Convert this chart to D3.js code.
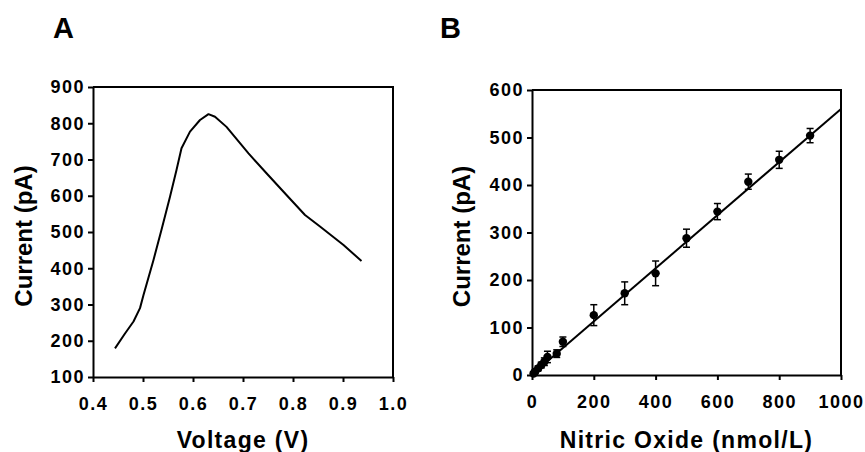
<!DOCTYPE html>
<html>
<head>
<meta charset="utf-8">
<script src="https://cdn.jsdelivr.net/npm/d3@7"></script>
<style>
  body { margin: 0; background: #fff; }
  svg { display: block; font-family: "Liberation Sans", Arial, sans-serif; font-weight: bold; }
  .axis path, .axis line { stroke: #000; stroke-width: 2; }
  .axis text { font-size: 18px; font-weight: bold; fill: #000; letter-spacing: 1.5px; }
</style>
</head>
<body>
<svg id="chart" width="865" height="452"></svg>
<script>
// Panel A - voltammogram
const voltage = [0.444, 0.464, 0.481, 0.494, 0.501, 0.521, 0.537, 0.554, 0.567, 0.577, 0.594,
                 0.614, 0.631, 0.644, 0.667, 0.711, 0.747, 0.787, 0.824, 0.854, 0.901, 0.937];
const currentA = [179, 220, 253, 290, 326, 423, 506, 597, 671, 731, 777,
                  809, 825, 818, 790, 717, 662, 602, 547, 515, 464, 420];
const voltTicks = [0.4, 0.5, 0.6, 0.7, 0.8, 0.9, 1.0];
const currentATicks = [100, 200, 300, 400, 500, 600, 700, 800, 900];

// Panel B - calibration
const nitricOxide = [5, 10, 20, 30, 40, 50, 80, 100, 200, 300, 400, 500, 600, 700, 800, 900];
const currentB = [3, 7, 14, 21, 28, 38, 45, 70, 126, 172, 214, 288, 344, 407, 453, 504];
const errorB = [3, 4, 5, 6, 8, 12, 8, 10, 22, 24, 26, 19, 17, 16, 18, 15];
const fitX = [0, 1000];
const fitY = [1, 560];
const noTicks = [0, 200, 400, 600, 800, 1000];
const currentBTicks = [0, 100, 200, 300, 400, 500, 600];

const svg = d3.select("#chart");

// draws the framed axes for one panel, returns the scales
function drawFrame(cfg) {
  const x = d3.scaleLinear().domain(cfg.xDomain).range([cfg.left, cfg.right]);
  const y = d3.scaleLinear().domain(cfg.yDomain).range([cfg.bottom, cfg.top]);

  svg.append("g")
    .attr("class", "axis")
    .attr("transform", `translate(0,${cfg.bottom})`)
    .call(d3.axisBottom(x).tickValues(cfg.xTicks).tickFormat(cfg.xFormat)
      .tickSize(5).tickSizeOuter(0).tickPadding(15));

  svg.append("g")
    .attr("class", "axis")
    .attr("transform", `translate(${cfg.left},0)`)
    .call(d3.axisLeft(y).tickValues(cfg.yTicks).tickFormat(d3.format("d"))
      .tickSize(5).tickSizeOuter(0).tickPadding(3));

  // top and right border
  svg.append("path")
    .attr("d", `M${cfg.left},${cfg.top}H${cfg.right}V${cfg.bottom}`)
    .attr("fill", "none")
    .attr("stroke", "#000")
    .attr("stroke-width", 2);

  svg.append("text")
    .attr("x", (cfg.left + cfg.right) / 2)
    .attr("y", 448)
    .attr("text-anchor", "middle")
    .attr("font-size", "23px")
    .attr("letter-spacing", "1.3px")
    .text(cfg.xLabel);

  svg.append("text")
    .attr("transform", `translate(${cfg.yLabelX},${(cfg.top + cfg.bottom) / 2 + 4}) rotate(-90)`)
    .attr("text-anchor", "middle")
    .attr("font-size", "24px")
    .text("Current (pA)");

  svg.append("text")
    .attr("x", cfg.letterX)
    .attr("y", 38)
    .attr("font-size", "29px")
    .text(cfg.letter);

  return {x, y};
}

// Panel A
const a = drawFrame({
  left: 93, right: 393, top: 87, bottom: 377,
  xDomain: [0.4, 1.0], yDomain: [100, 900],
  xTicks: voltTicks, yTicks: currentATicks, xFormat: d3.format(".1f"),
  xLabel: "Voltage (V)", yLabelX: 32, letter: "A", letterX: 53
});

svg.append("path")
  .datum(voltage.map((v, i) => [v, currentA[i]]))
  .attr("fill", "none")
  .attr("stroke", "#000")
  .attr("stroke-width", 2)
  .attr("stroke-linejoin", "round")
  .attr("d", d3.line().x(d => a.x(d[0])).y(d => a.y(d[1])));

// Panel B
const b = drawFrame({
  left: 532, right: 841, top: 90, bottom: 375,
  xDomain: [0, 1000], yDomain: [0, 600],
  xTicks: noTicks, yTicks: currentBTicks, xFormat: d3.format("d"),
  xLabel: "Nitric Oxide (nmol/L)", yLabelX: 470, letter: "B", letterX: 440
});

svg.append("path")
  .datum(fitX.map((v, i) => [v, fitY[i]]))
  .attr("fill", "none")
  .attr("stroke", "#000")
  .attr("stroke-width", 2)
  .attr("d", d3.line().x(d => b.x(d[0])).y(d => b.y(d[1])));

const pts = nitricOxide.map((v, i) => ({x: v, y: currentB[i], e: errorB[i]}));

const errG = svg.append("g").attr("stroke", "#000").attr("stroke-width", 1.5);
errG.selectAll("line.bar")
  .data(pts)
  .join("line")
    .attr("class", "bar")
    .attr("x1", d => b.x(d.x)).attr("x2", d => b.x(d.x))
    .attr("y1", d => b.y(d.y - d.e)).attr("y2", d => b.y(d.y + d.e));
errG.selectAll("line.capTop")
  .data(pts)
  .join("line")
    .attr("class", "capTop")
    .attr("x1", d => b.x(d.x) - 3.5).attr("x2", d => b.x(d.x) + 3.5)
    .attr("y1", d => b.y(d.y + d.e)).attr("y2", d => b.y(d.y + d.e));
errG.selectAll("line.capBot")
  .data(pts)
  .join("line")
    .attr("class", "capBot")
    .attr("x1", d => b.x(d.x) - 3.5).attr("x2", d => b.x(d.x) + 3.5)
    .attr("y1", d => b.y(d.y - d.e)).attr("y2", d => b.y(d.y - d.e));

svg.append("g").selectAll("circle")
  .data(pts)
  .join("circle")
    .attr("cx", d => b.x(d.x))
    .attr("cy", d => b.y(d.y))
    .attr("r", 4.2)
    .attr("fill", "#000");
</script>
</body>
</html>
